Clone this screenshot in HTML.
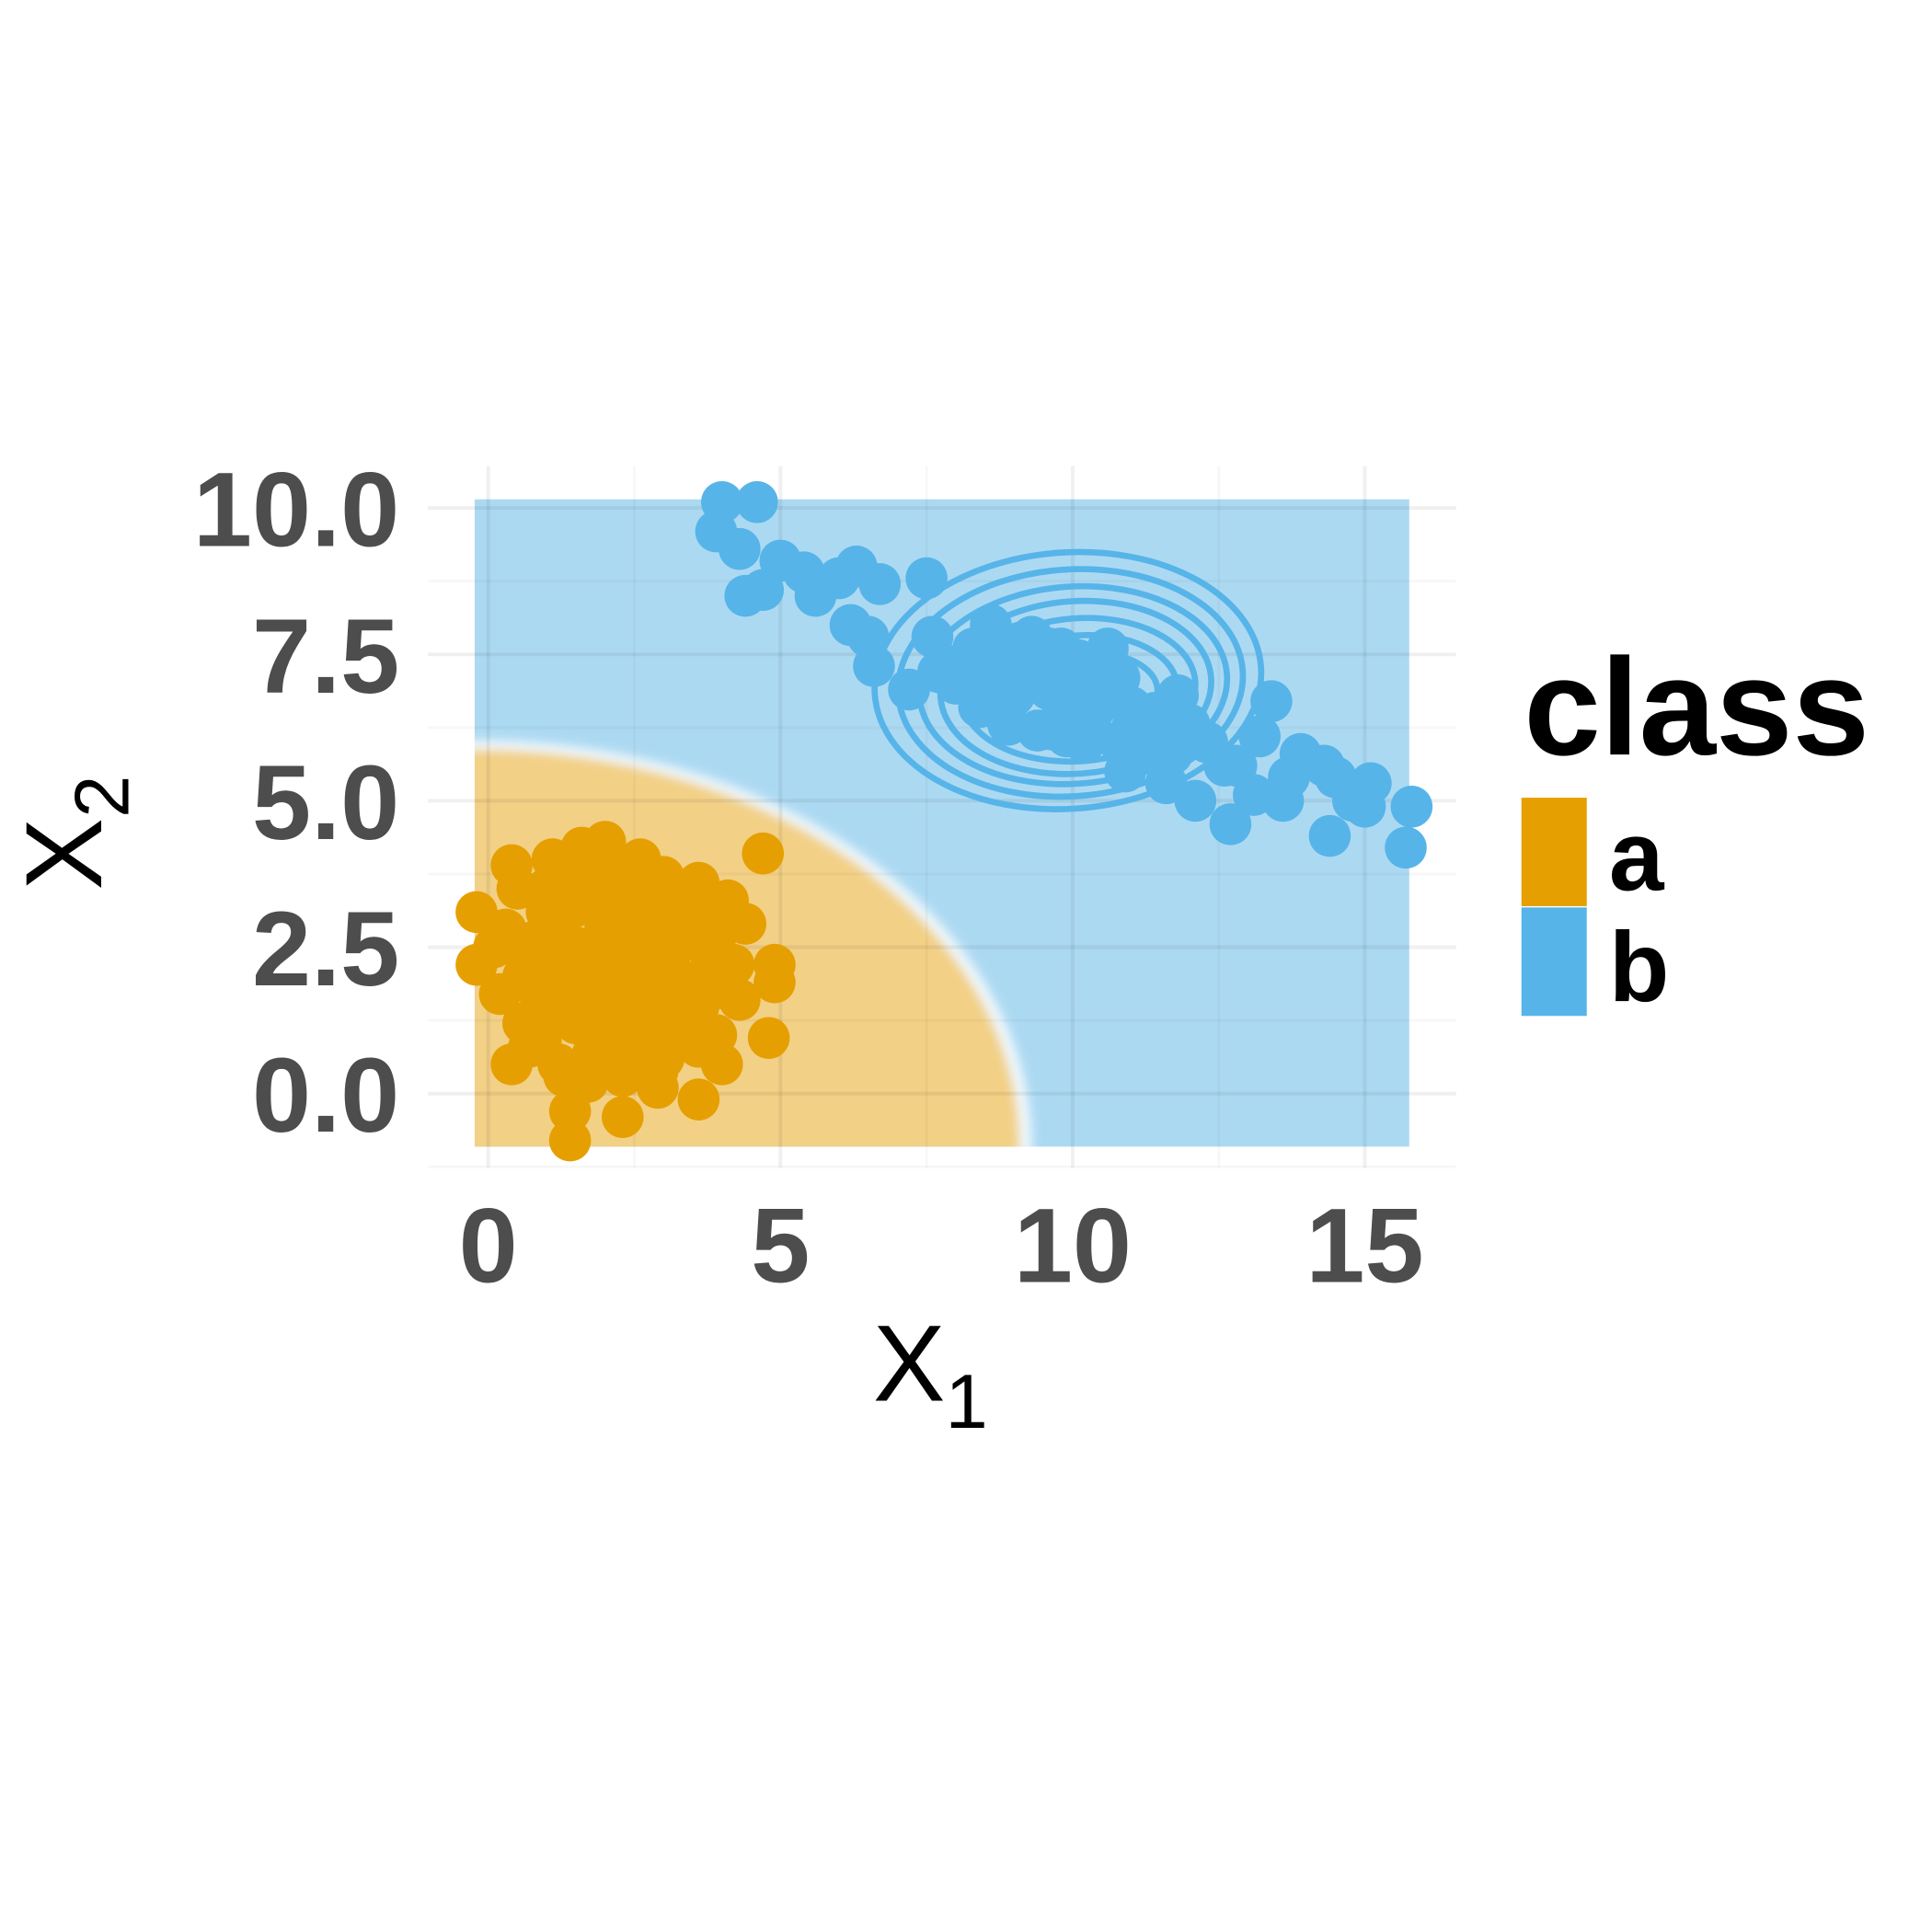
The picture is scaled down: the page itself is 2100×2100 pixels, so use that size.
<!DOCTYPE html>
<html><head><meta charset="utf-8"><style>
html,body{margin:0;padding:0;background:#fff;}
svg{display:block;}
text{font-family:"Liberation Sans",sans-serif;}
</style></head><body>
<svg id="chart" width="2100" height="2100" viewBox="0 0 1567 1567" xmlns="http://www.w3.org/2000/svg">
<defs>
<clipPath id="rc"><rect x="385" y="405" width="758" height="525"/></clipPath>
<filter id="blur" x="-10%" y="-10%" width="120%" height="120%"><feGaussianBlur stdDeviation="4"/></filter>
</defs>
<g id="panel">
 <rect x="385" y="405" width="758" height="525" fill="#acd9f2"/>
 <g clip-path="url(#rc)">
  <g filter="url(#blur)">
   <ellipse cx="385" cy="930" rx="452" ry="330" fill="#ffffff" opacity="0.8"/>
   <ellipse cx="385" cy="930" rx="442" ry="322" fill="#f2d086"/>
  </g>
 </g>
 <g id="grid"></g>
 <g id="contours"></g>
 <g id="points"></g>
</g>
<g id="axes"></g>
<text x="708" y="1136" font-size="88" fill="#000">X<tspan font-size="62" dy="22">1</tspan></text>
<text transform="translate(82,722) rotate(-90)" font-size="88" fill="#000">X<tspan font-size="62" dy="22">2</tspan></text>
<g>
 <text x="1236" y="612" font-size="112" font-weight="bold" fill="#000">class</text>
 <rect x="1234" y="647" width="53" height="88" fill="#E69F00"/>
 <rect x="1234" y="736" width="53" height="88" fill="#56B4E9"/>
 <text x="1305" y="722" font-size="80" font-weight="bold" fill="#000">a</text>
 <text x="1305" y="812" font-size="80" font-weight="bold" fill="#000">b</text>
</g>
</svg>
<script>
const xTicks=[0,5,10,15];
const yTicks=[0,2.5,5,7.5,10];
const yTickLabels=["0.0","2.5","5.0","7.5","10.0"];
const aX=[4.7,4.9,4.9,4.8,1.4,1.4,2.3,0.4,0.4,-0.2,-0.2,2.0,1.6,4.0,3.6,2.9,4.4,3.6,1.0,0.2,0.8,1.2,1.8,2.4,3.0,3.4,3.9,4.2,0.6,1.0,1.5,2.0,2.6,3.2,3.8,4.3,0.7,1.3,1.9,2.5,3.1,3.7,0.3,0.9,1.5,2.1,2.7,3.3,3.9,1.2,1.8,2.4,3.0,3.6,1.7,2.3,2.9,2.1,2.6,3.3,1.1,0.5,4.1,2.8,
 0.6,1.1,1.6,2.1,2.6,3.1,3.6,0.9,1.4,1.9,2.4,2.9,3.4,0.7,1.2,1.7,2.2,2.7,3.2,3.7,1.0,1.5,2.0,2.5,3.0,3.5,1.3,1.8,2.3,2.8,3.3,1.6,2.2,2.8,0.1,4.0];
const aY=[4.1,2.2,1.9,0.95,-0.8,-0.3,-0.4,0.5,3.9,3.1,2.2,4.3,4.2,0.5,-0.1,0.1,2.9,3.6,3.5,1.7,2.6,3.0,3.3,3.5,3.7,3.3,2.7,2.2,1.2,1.9,2.5,2.8,3.0,2.9,2.4,1.6,0.8,1.3,1.8,2.2,2.3,1.9,2.8,0.9,1.2,1.5,1.7,1.4,1.0,0.5,0.7,0.9,0.6,0.8,0.2,0.3,0.4,3.8,4.0,3.1,4.0,3.5,3.3,2.6,
 2.0,2.2,2.0,1.9,2.0,1.8,1.5,1.6,1.7,1.4,1.2,1.1,1.9,2.4,2.6,2.4,2.5,2.6,2.6,2.9,3.1,3.2,3.2,3.3,3.4,3.1,0.3,1.0,0.7,1.4,0.9,3.7,3.9,3.6,2.5,1.8];
const bX=[4.0,4.6,3.9,4.3,4.4,4.7,5.0,5.4,5.6,6.0,6.3,6.7,7.5,6.2,6.5,6.6,7.2,7.6,8.3,8.0,8.6,9,9.5,10,10.4,10.8,9.8,11,11.4,11.8,12.3,11.6,12.1,12.6,12.7,13.1,13.4,13.6,13.9,14.3,14.5,14.4,15.0,15.1,15.8,15.7,13.2,8.8,9.3,10.2,10.6,11.2,12.0,7.9,8.5,9.8,10.9,9.0,10.0,11.5,12.8,13.7,14.8,
 8.2,8.7,9.2,9.6,10.1,10.5,11.0,8.9,9.4,9.9,10.3,10.8,11.3,9.1,9.6,10.1,10.6,8.4,7.7,11.7];
const bY=[10.1,10.1,9.6,9.3,8.5,8.6,9.1,8.9,8.5,8.8,9.0,8.7,8.8,8.0,7.8,7.3,6.9,7.8,7.6,7.0,8.0,7.5,7.2,7.0,6.6,7.1,6.4,6.2,6.5,6.8,6.0,5.3,5.0,5.6,4.6,5.1,6.7,5.0,5.8,5.6,5.4,4.4,4.9,5.3,4.9,4.2,6.1,6.5,7.8,6.0,7.6,5.8,6.3,7.3,6.9,7.6,5.5,6.8,7.4,6.3,5.6,5.4,5.0,
 7.3,7.2,7.0,6.9,6.8,6.9,6.6,6.3,6.2,6.1,6.3,6.0,6.0,7.7,7.6,7.4,7.0,6.6,7.2,5.8];
const contourRx=[157,140,125,110,95,78,60];
const contourRy=[104,92,80,70,58,46,34];
const NS="http://www.w3.org/2000/svg";
const sx=v=>396+v*47.4, sy=v=>887-v*47.5;
function mk(tag,attrs,parent){const e=document.createElementNS(NS,tag);for(const k in attrs)e.setAttribute(k,attrs[k]);parent.appendChild(e);return e;}
const grid=document.getElementById('grid'),axes=document.getElementById('axes');
[0,2.5,5,7.5,10,12.5,15].forEach(v=>{const l=mk('line',{x1:sx(v),x2:sx(v),y1:378,y2:947,stroke:'#000',"stroke-opacity":v%5===0?0.06:0.03,"stroke-width":v%5===0?3:2},grid);

});
[-1.25,0,1.25,2.5,3.75,5,6.25,7.5,8.75,10].forEach(v=>{const l=mk('line',{x1:347,x2:1181,y1:sy(v),y2:sy(v),stroke:'#000',"stroke-opacity":Math.abs(v%2.5)<1e-9?0.06:0.03,"stroke-width":Math.abs(v%2.5)<1e-9?3:2},grid);

});
const cg=document.getElementById('contours');
contourRx.forEach((rx,i)=>{const e=mk('ellipse',{cx:sx(10)-4+i*2,cy:sy(7.1)+2+i*2,rx:rx,ry:contourRy[i],fill:'none',stroke:'#56B4E9','stroke-width':5,transform:`rotate(-4 ${sx(10)} ${sy(7.1)})`},cg);

});
const pg=document.getElementById('points');
aX.forEach((x,i)=>{const c=mk('circle',{cx:sx(x),cy:sy(aY[i]),r:17,fill:'#E69F00'},pg);

});
bX.forEach((x,i)=>{const c=mk('circle',{cx:sx(x),cy:sy(bY[i]),r:17,fill:'#56B4E9'},pg);

});
xTicks.forEach(v=>{const t=mk('text',{x:sx(v),y:1040,"text-anchor":"middle","font-size":86,"font-weight":"bold",fill:"#4d4d4d"},axes);t.textContent=v;

});
yTicks.forEach((v,i)=>{const t=mk('text',{x:324,y:sy(v)+31,"text-anchor":"end","font-size":86,"font-weight":"bold",fill:"#4d4d4d"},axes);t.textContent=yTickLabels[i];

});
</script>
</body></html>
